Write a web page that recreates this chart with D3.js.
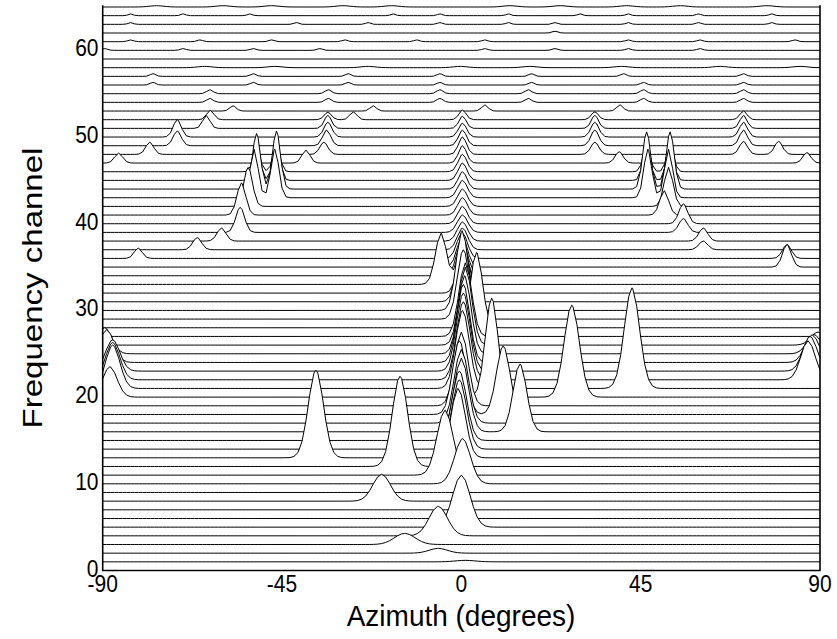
<!DOCTYPE html>
<html><head><meta charset="utf-8">
<script src="https://cdn.jsdelivr.net/npm/d3@7"></script>
<style>body{margin:0;background:#fff}svg{display:block}</style>
</head><body><svg id="c" width="837" height="639"></svg>
<script>
// ---- data ----
const channels = d3.range(1, 66);
const xTickValues = [-90, -45, 0, 45, 90];
const yTickValues = [0, 10, 20, 30, 40, 50, 60];
const xLabel = "Azimuth (degrees)";
const yLabel = "Frequency channel";
// peaks: channel, azimuth (deg), height (channels), width (deg)
const peakChannel = [
 1,2,3,4,5,8,10,11,12,13,13,14,15,16,16,17,18,18,19,20,20,20,21,21,21,22,22,22,23,23,23,24,24,24,25,25,25,26,26,27,28,29,30,31,32,33,33,34,35,36,37,38,39,40,41,42,43,44,45,46,47,48,49,50,51,52,
 36,37,38,39,41,42,43,43,44,44,45,45,46,46,47,47,48,48,49,49,50,50,51,51,52,52,52,53,53,53,53,
 35,36,37,38,39,40,41,42,43,43,44,44,45,45,46,46,47,47,48,48,48,49,49,50,50,51,51,52,52,
 54,54,54,54,54,54,55,55,55,55,55,55,
 56,56,56,56,56,56,56,57,57,57,57,57,57,57,
 58,58,58,58,58,58,58,58,
 60,60,60,60,60,60,60,60,
 61,61,61,61,61,61,61,61,61,62,
 63,63,63,63,63,63,63,63,63,
 64,64,64,64,64,64,64,64,64,64,
 65,65,65,65,65,65,65,65,65,65
];
const peakAzimuth = [
 1,-5.8,-14.2,-5.8,0,-20,0.3,-4.1,-15.4,-36.5,-0.8,-0.5,-0.5,14.7,0,0,10.5,-0.5,0,7.6,27.7,-88.2,42.8,-87.5,0.3,-87.5,87,0.5,-87.5,87.5,0.5,-89,88,0.5,-89.5,88.5,0.8,89.5,1,1,3.8,0.5,0.2,0.3,0.5,-5.1,0.3,0.2,0.2,0.2,0.3,0.3,0.3,0.3,0.3,0.3,0.3,0.3,0.3,0.3,0.3,0.3,0.3,0.3,0.3,0.3,
 -81.1,-66.3,-60.2,-55.5,-55.2,-53.5,-52,-46.8,-51.4,-46.4,-51.4,-46.4,-51.4,-46.4,-86,-39,-78.2,-34.5,-71.3,-33.8,-71.3,-33.5,-64,-33.5,-63,-33.5,-27.1,-57.3,-22.1,5.9,39.8,
 81.7,81.7,60.7,60.7,55.7,55.7,50.9,52,52,46.8,52.4,46.5,52.4,46.5,52.4,46.5,39.6,86.7,79.6,33.5,70.8,33.5,70.8,33.5,70.8,33.5,70.8,33.5,70.8,
 -63.1,-33.4,-5.4,16.8,45.7,70.8,-63.1,-33.4,-5.4,16.8,45.7,70.8,
 -77.4,-52.2,-28.4,-5.4,17.6,45.7,70.8,-77.4,-52.2,-28.4,-5.4,17.6,40.7,70.8,
 -64.4,-46.8,-23.4,-0.3,17.2,40.2,64.9,85,
 -89.5,-69.8,-52.2,-35.5,5.9,23.5,41.9,59.9,
 -83,-65.6,-47.6,-29.2,-11.2,5.9,41.9,59.9,83.7,23.5,
 -83,-41.4,-23.4,-5.4,11.8,23.5,41.9,59.5,77.9,
 -83,-69.8,-53.1,-17.1,-5.4,11.8,29.8,41.9,59.5,77.9,
 -76.5,-59.8,-47.6,-29.7,-17.5,12.2,24.8,41.5,54.9,76.7
];
const peakHeight = [
 0.17,0.55,1.28,3.4,6.0,3.1,5.2,7.5,10.4,10.1,8.0,8.0,8.0,7.8,8.5,8.5,7.9,8.5,8.5,11.4,10.6,3.5,11.6,5.0,9.0,4.3,4.5,9.0,3.6,4.0,9.0,3.8,3.2,9.0,3.0,2.2,9.0,1.5,9.0,8.5,8.7,8.0,9.2,6.5,5.5,5.9,4.5,4.0,3.5,3.0,2.5,2.2,2.0,2.0,2.0,2.0,2.0,2.0,2.0,2.0,2.0,2.0,1.8,1.6,1.4,1.1,
 1.2,1.4,1.5,2.9,3.7,4.5,5.6,5.6,6.4,6.7,4.4,4.7,2.8,3.0,1.15,1.5,1.4,1.4,1.7,1.8,2.0,1.7,1.5,1.5,1.1,0.85,0.9,0.6,0.6,0.7,0.7,
 2.6,1.6,1.0,1.5,1.6,2.3,2.8,4.5,5.6,5.6,6.6,6.6,4.6,4.6,3.0,3.0,1.3,1.2,1.5,1.4,1.5,1.8,1.8,1.7,1.7,1.5,1.5,0.9,1.0,
 0.45,0.45,0.45,0.45,0.45,0.45,0.45,0.45,0.45,0.45,0.45,0.45,
 0.3,0.3,0.3,0.3,0.3,0.3,0.3,0.3,0.3,0.3,0.3,0.3,0.3,0.3,
 0.15,0.15,0.15,0.15,0.15,0.15,0.15,0.15,
 0.2,0.2,0.2,0.2,0.2,0.2,0.2,0.2,
 0.2,0.2,0.2,0.2,0.2,0.2,0.2,0.2,0.2,0.2,
 0.2,0.2,0.2,0.2,0.2,0.2,0.2,0.2,0.2,
 0.2,0.2,0.2,0.2,0.2,0.2,0.2,0.2,0.2,0.2,
 0.15,0.15,0.15,0.15,0.15,0.15,0.15,0.15,0.15,0.15
];
const peakWidth = [
 2.5,2.3,2.6,2.3,2.2,2.2,2.0,2.0,1.9,1.9,1.8,1.8,1.8,1.7,1.8,1.8,1.7,1.7,1.7,1.6,1.9,1.8,1.9,1.8,1.7,1.8,1.8,1.7,1.8,1.8,1.7,1.8,1.8,1.6,1.8,1.8,1.6,1.8,1.6,1.6,1.5,1.5,1.5,1.5,1.4,1.4,1.4,1.4,1.3,1.3,1.3,1.3,1.3,1.2,1.2,1.2,1.2,1.1,1.1,1.1,1.0,1.0,1.0,1.0,0.9,0.9,
 1.0,1.1,1.1,1.1,1.1,1.1,1.0,1.0,1.0,1.0,0.9,0.9,0.9,0.9,1.0,1.0,1.0,1.0,1.0,1.0,1.0,1.0,0.9,0.9,0.9,0.9,0.9,0.8,0.8,0.8,0.8,
 1.1,1.1,1.1,1.1,1.1,1.1,1.1,1.1,1.0,1.0,1.0,1.0,0.9,0.9,0.9,0.9,1.0,1.0,1.0,1.0,1.0,1.0,1.0,1.0,1.0,0.9,0.9,0.9,0.9,
 0.8,0.8,0.8,0.8,0.8,0.8,0.8,0.8,0.8,0.8,0.8,0.8,
 0.7,0.7,0.7,0.7,0.7,0.7,0.7,0.7,0.7,0.7,0.7,0.7,0.7,0.7,
 1.8,1.8,1.8,1.8,1.8,1.8,1.8,1.8,
 0.7,0.7,0.7,0.7,0.7,0.7,0.7,0.7,
 0.7,0.7,0.7,0.7,0.7,0.7,0.7,0.7,0.7,0.7,
 0.6,0.6,0.6,0.6,0.6,0.6,0.6,0.6,0.6,
 0.6,0.6,0.6,0.6,0.6,0.6,0.6,0.6,0.6,0.6,
 1.8,1.8,1.8,1.8,1.8,1.8,1.8,1.8,1.8,1.8
];

// ---- layout ----
const svg = d3.select("#c");
const x = d3.scaleLinear().domain([-90, 90]).range([102.7, 820]);
const y = d3.scaleLinear().domain([0, 65]).range([570.5, 7]);

const peaks = peakChannel.map((c, i) => ({c, a: peakAzimuth[i], h: peakHeight[i], w: peakWidth[i]}));
const grid = d3.range(-90, 90.001, 1);

function curve(c) {
  const ps = peaks.filter(p => p.c === c);
  const az = Array.from(new Set(grid.concat(ps.map(p => p.a).filter(a => a > -90 && a < 90)))).sort((a, b) => a - b);
  return az.map(a => ({a, v: d3.sum(ps, p => p.h * Math.exp(-0.5 * ((a - p.a) / p.w) ** 2))}));
}

const g = svg.append("g");
const area = d3.area().x(d => x(d.a));
const line = d3.line().x(d => x(d.a));
channels.slice().reverse().forEach(c => {
  const pts = curve(c);
  g.append("path").datum(pts)
    .attr("d", area.y0(y(c)).y1(d => y(c + d.v)))
    .attr("fill", "#fff").attr("stroke", "none");
  g.append("path").datum(pts)
    .attr("d", line.y(d => y(c + d.v)))
    .attr("fill", "none").attr("stroke", "#000").attr("stroke-width", 1);
});

// frame
svg.append("path")
  .attr("d", `M${x(-90)},${y(65.2)}V${y(0)}H${x(90)}V${y(65.2)}`)
  .attr("fill", "none").attr("stroke", "#000").attr("stroke-width", 1.6);

const font = "'Liberation Sans', Arial, Helvetica, sans-serif";
const stretch = 1.12;

// x tick labels
svg.append("g").selectAll("text").data(xTickValues).join("text")
  .attr("transform", d => `translate(${x(d)},592) scale(1,${stretch})`)
  .attr("text-anchor", "middle").attr("font-family", font).attr("font-size", 21)
  .text(d => d < 0 ? "-" + Math.abs(d) : String(d));
// y tick labels
svg.append("g").selectAll("text").data(yTickValues).join("text")
  .attr("transform", d => `translate(98.5,${y(d) + 6}) scale(1,${stretch})`)
  .attr("text-anchor", "end").attr("font-family", font).attr("font-size", 21)
  .text(d => String(d));

svg.append("text").attr("transform", `translate(461,626) scale(1,1.08)`).attr("text-anchor", "middle")
  .attr("font-family", font).attr("font-size", 28).text(xLabel);
svg.append("text").attr("transform", "translate(42,288) rotate(-90) scale(1.18,1)").attr("text-anchor", "middle")
  .attr("font-family", font).attr("font-size", 28).text(yLabel);
</script></body></html>
